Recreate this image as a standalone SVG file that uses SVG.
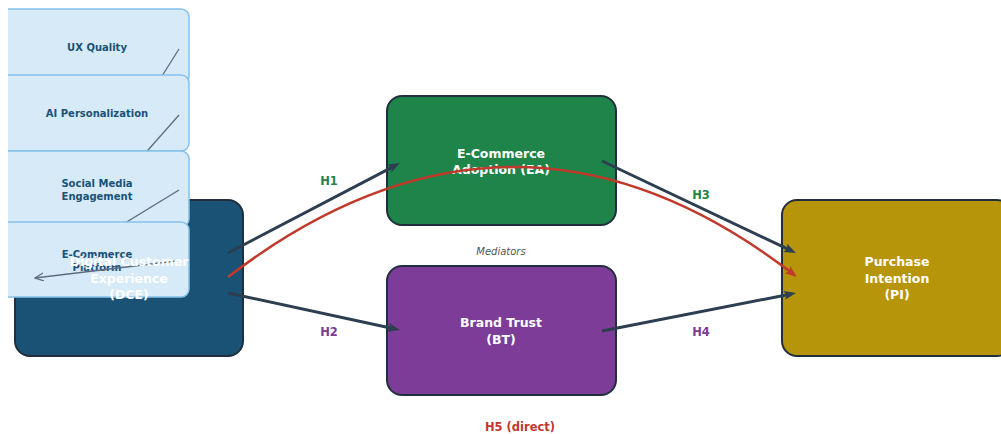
<svg xmlns="http://www.w3.org/2000/svg" width="1001" height="434" viewBox="0 0 1001 434">
  <style>
    .node { stroke: #212f3d; stroke-width: 2; }
    .sub { fill: #d6eaf8; stroke: #85c1e9; stroke-width: 1.5; }
    .sublink { fill: none; stroke: #5d6d7e; stroke-width: 1.3; }
    .label { font-family: "DejaVu Sans", "Liberation Sans", sans-serif; font-weight: bold; text-anchor: middle; }
    .ntext { fill: #ffffff; font-size: 12.5px; }
    .stext { fill: #1a5276; font-size: 10px; }
    .hlab { font-size: 11.5px; }
    .link { fill: none; stroke: #2c3e50; stroke-width: 3; }
    .direct { fill: none; stroke: #c0392b; stroke-width: 2.5; }
  </style>
  <defs>
    <marker id="headDark" markerUnits="userSpaceOnUse" markerWidth="12" markerHeight="10" refX="6" refY="4.5" orient="auto">
      <path d="M0,0 L12,4.5 L0,9 L2.5,4.5 z" fill="#2c3e50"/>
    </marker>
    <marker id="headRed" markerUnits="userSpaceOnUse" markerWidth="12" markerHeight="10" refX="6" refY="4.5" orient="auto">
      <path d="M0,0 L12,4.5 L0,9 L2.5,4.5 z" fill="#c0392b"/>
    </marker>
    <marker id="headOpen" markerUnits="userSpaceOnUse" markerWidth="10" markerHeight="9" refX="8.5" refY="4" orient="auto">
      <path d="M0,0 L8.5,4 L0,8" fill="none" stroke="#5d6d7e" stroke-width="1.3"/>
    </marker>
    <clipPath id="plotArea">
      <rect x="8" y="0" width="993" height="434"/>
    </clipPath>
  </defs>

  <rect x="0" y="0" width="1001" height="434" fill="#ffffff"/>

  <!-- Independent variable: DCE with its four dimensions -->
  <g id="node-dce">
    <rect class="node" x="15" y="200" width="228" height="156" rx="15" fill="#1a5276"/>
  </g>

  <g id="dce-dimensions" clip-path="url(#plotArea)">
    <g id="node-ux">
      <rect class="sub" x="-2" y="9" width="191" height="76" rx="8"/>
      <text class="label stext" x="97" y="51">UX Quality</text>
      <line class="sublink" x1="179" y1="49" x2="35" y2="278" marker-end="url(#headOpen)"/>
    </g>
    <g id="node-ai">
      <rect class="sub" x="-2" y="75" width="191" height="76" rx="8"/>
      <text class="label stext" x="97" y="117">AI Personalization</text>
      <line class="sublink" x1="179" y1="115" x2="35" y2="278" marker-end="url(#headOpen)"/>
    </g>
    <g id="node-sme">
      <rect class="sub" x="-2" y="151" width="191" height="76" rx="8"/>
      <text class="label stext" x="97" y="187">Social Media</text>
      <text class="label stext" x="97" y="200">Engagement</text>
      <line class="sublink" x1="179" y1="190" x2="35" y2="278" marker-end="url(#headOpen)"/>
    </g>
    <g id="node-ecp">
      <rect class="sub" x="-2" y="222" width="191" height="75" rx="8"/>
      <text class="label stext" x="97" y="258">E-Commerce</text>
      <text class="label stext" x="97" y="271">Platform</text>
      <line class="sublink" x1="176" y1="261" x2="35" y2="278" marker-end="url(#headOpen)"/>
    </g>
  </g>

  <g id="node-dce-label">
    <text class="label ntext" x="129" y="266">Digital Customer</text>
    <text class="label ntext" x="129" y="283">Experience</text>
    <text class="label ntext" x="129" y="299">(DCE)</text>
  </g>

  <!-- Mediators -->
  <g id="node-ea">
    <rect class="node" x="387" y="96" width="229" height="129" rx="15" fill="#1e8449"/>
    <text class="label ntext" x="501" y="158">E-Commerce</text>
    <text class="label ntext" x="501" y="174">Adoption (EA)</text>
  </g>

  <g id="node-bt">
    <rect class="node" x="387" y="266" width="229" height="129" rx="15" fill="#7d3c98"/>
    <text class="label ntext" x="501" y="327">Brand Trust</text>
    <text class="label ntext" x="501" y="344">(BT)</text>
  </g>

  <text x="501" y="255" font-family="DejaVu Sans, Liberation Sans, sans-serif" font-style="italic" font-size="10px" fill="#555555" text-anchor="middle">Mediators</text>

  <!-- Dependent variable -->
  <g id="node-pi">
    <rect class="node" x="782" y="200" width="230" height="156" rx="15" fill="#b7950b"/>
    <text class="label ntext" x="897" y="266">Purchase</text>
    <text class="label ntext" x="897" y="283">Intention</text>
    <text class="label ntext" x="897" y="299">(PI)</text>
  </g>

  <!-- Hypothesised paths -->
  <g id="connectors">
    <path class="direct" d="M228,277 Q513,59 792.2,273.3" marker-end="url(#headRed)"/>
    <line class="link" x1="228" y1="253" x2="394.7" y2="165.8" marker-end="url(#headDark)"/>
    <line class="link" x1="228" y1="293" x2="394.1" y2="328.7" marker-end="url(#headDark)"/>
    <line class="link" x1="602" y1="161" x2="790.6" y2="250.4" marker-end="url(#headDark)"/>
    <line class="link" x1="602" y1="331" x2="790.1" y2="294.2" marker-end="url(#headDark)"/>

    <text class="label hlab" x="329" y="185" fill="#1e8449">H1</text>
    <text class="label hlab" x="329" y="336" fill="#7d3c98">H2</text>
    <text class="label hlab" x="701" y="199" fill="#1e8449">H3</text>
    <text class="label hlab" x="701" y="336" fill="#7d3c98">H4</text>
    <text class="label hlab" x="520" y="431" fill="#c0392b">H5 (direct)</text>
  </g>
</svg>
